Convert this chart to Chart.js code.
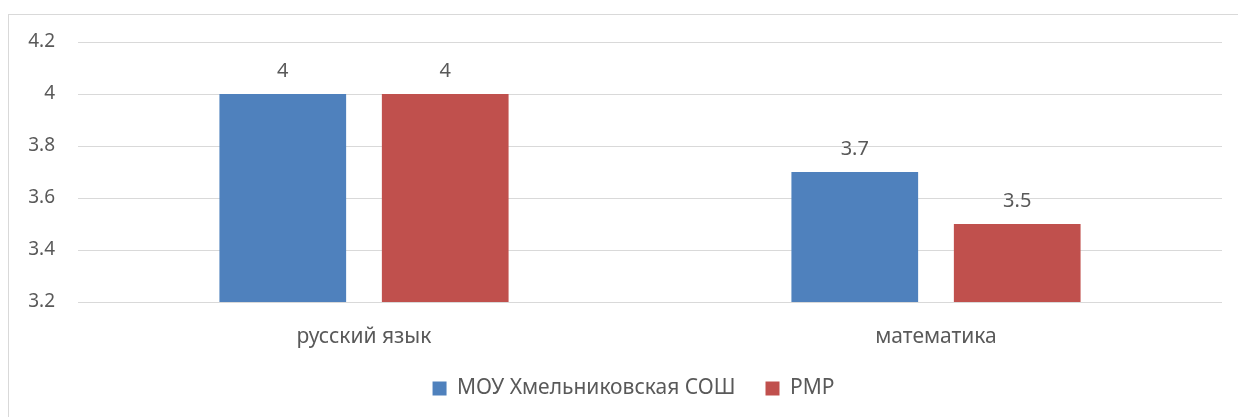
<!DOCTYPE html>
<html><head><meta charset="utf-8">
<script src="https://cdn.jsdelivr.net/npm/chart.js@4/dist/chart.umd.min.js"></script>
<style>html,body{margin:0;padding:0;background:#fff;overflow:hidden}#wrap{position:absolute;left:0;top:0;width:1238px;height:417px}</style>
</head><body><div id="wrap"><canvas id="c" width="1238" height="417"></canvas></div>
<script>
const categories = ["русский язык", "математика"];
const seriesNames = ["МОУ Хмельниковская СОШ", "РМР"];
const schoolValues = [4, 3.7];
const districtValues = [4, 3.5];
const yTicks = [3.2, 3.4, 3.6, 3.8, 4, 4.2];

const FONT = "'Noto Sans', 'Open Sans', sans-serif";
const TXT = "#595959";
const FS = 19;
const FT = 21;

const borderPlugin = {
  id: 'frame',
  beforeDraw(chart) {
    const ctx = chart.ctx;
    ctx.save();
    ctx.strokeStyle = '#d9d9d9';
    ctx.lineWidth = 1;
    ctx.strokeRect(8.5, 14.5, 1300, 500);
    ctx.restore();
  }
};
const labelPlugin = {
  id: 'vals',
  afterDatasetsDraw(chart) {
    const ctx = chart.ctx;
    ctx.save();
    ctx.font = "20px " + FONT;
    ctx.fillStyle = TXT;
    ctx.textAlign = 'center';
    ctx.textBaseline = 'middle';
    chart.data.datasets.forEach((ds, i) => {
      chart.getDatasetMeta(i).data.forEach((bar, j) => {
        ctx.fillText(String(ds.data[j]), bar.x, bar.y - 23);
      });
    });
    ctx.restore();
  }
};

new Chart(document.getElementById('c'), {
  type: 'bar',
  data: {
    labels: categories,
    datasets: [
      { label: seriesNames[0], data: schoolValues, backgroundColor: '#4F81BD' },
      { label: seriesNames[1], data: districtValues, backgroundColor: '#C0504D' }
    ]
  },
  options: {
    responsive: false,
    animation: false,
    devicePixelRatio: 1,
    layout: { padding: { top: 42, right: -29, left: 0, bottom: 8 } },
    datasets: { bar: { categoryPercentage: 0.568, barPercentage: 0.78 } },
    scales: {
      y: {
        min: 3.2, max: 4.2,
        afterBuildTicks(s) { s.ticks = yTicks.map(v => ({ value: v })); },
        afterFit(s) { s.width = 78; },
        ticks: {
          padding: 23,
          color: TXT,
          font: { size: FS, family: FONT },
          callback: v => String(Number(v.toFixed(1)))
        },
        grid: { color: '#d9d9d9', lineWidth: 1, drawTicks: false },
        border: { display: false }
      },
      yRight: {
        type: 'linear',
        position: 'right',
        min: 0, max: 1,
        afterFit(s) { s.width = 45; },
        ticks: { display: false },
        grid: { display: false, drawTicks: false },
        border: { display: false }
      },
      x: {
        afterFit(s) { s.height = 46; },
        ticks: { color: TXT, font: { size: FT, family: FONT }, padding: 22 },
        grid: { display: false, drawTicks: false },
        border: { display: false }
      }
    },
    plugins: {
      legend: {
        position: 'bottom',
        labels: {
          color: TXT,
          font: { size: FT, family: FONT },
          boxWidth: 14, boxHeight: 14,
          padding: 30
        }
      },
      tooltip: { enabled: false }
    }
  },
  plugins: [borderPlugin, labelPlugin]
});
</script>
</body></html>
